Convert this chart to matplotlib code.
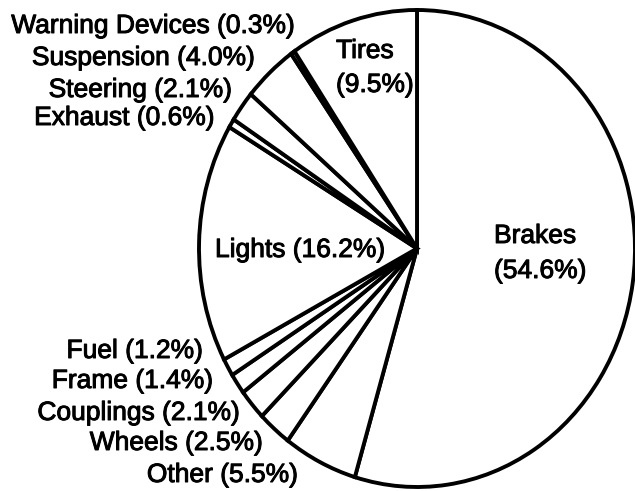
import matplotlib
matplotlib.use("Agg")
import matplotlib.pyplot as plt
import matplotlib.patheffects as pe

categories = ["Brakes", "Other", "Wheels", "Couplings", "Frame", "Fuel",
              "Lights", "Exhaust", "Steering", "Suspension", "Warning Devices", "Tires"]
shares = [54.6, 5.5, 2.5, 2.1, 1.4, 1.2, 16.2, 0.6, 2.1, 4.0, 0.3, 9.5]

W, H = 635, 491

# label anchors in image pixels: x, baseline y from top, alignment,
# baseline of the second line (None = single line)
label_layout = {
    "Warning Devices": (295, 33, "right", None),
    "Suspension": (255, 65, "right", None),
    "Steering": (232, 97, "right", None),
    "Exhaust": (215, 125, "right", None),
    "Fuel": (203, 358, "right", None),
    "Frame": (213, 388, "right", None),
    "Couplings": (240, 420, "right", None),
    "Wheels": (263, 450, "right", None),
    "Other": (298, 482, "right", None),
    "Lights": (215, 257, "left", None),
    "Tires": (336, 58, "left", 92),
    "Brakes": (494, 243, "left", 278),
}

plt.rcParams['font.family'] = ['Liberation Sans', 'DejaVu Sans']

fig = plt.figure(figsize=(W / 100, H / 100), dpi=100)
fig.patch.set_facecolor('white')

# slightly elliptical pie: centre (417, 248.5), rx 218, ry 238.5 in pixels
cx, cy, rx, ry = 417, 248.5, 218, 238.5
ax = fig.add_axes([(cx - rx) / W, (H - cy - ry) / H, 2 * rx / W, 2 * ry / H])

wedges, _ = ax.pie(shares, startangle=90, counterclock=False,
                   colors=['white'] * len(shares),
                   wedgeprops=dict(edgecolor='black', linewidth=2.8))
for w in wedges:
    w.set_clip_on(False)
ax.set_aspect('auto')
ax.set_xlim(-1, 1)
ax.set_ylim(-1, 1)
ax.axis('off')

# the scanned lettering is a bit heavier than the regular face
heavy = [pe.withStroke(linewidth=0.7, foreground='black')]

for name, val in zip(categories, shares):
    x, y, ha, y2 = label_layout[name]
    pct = f"({val}%)"
    if y2 is None:
        fig.text(x / W, 1 - y / H, f"{name} {pct}", ha=ha, va='baseline',
                 fontsize=19, color='black', path_effects=heavy)
    else:
        fig.text(x / W, 1 - y / H, name, ha=ha, va='baseline',
                 fontsize=19, color='black', path_effects=heavy)
        fig.text(x / W, 1 - y2 / H, pct, ha=ha, va='baseline',
                 fontsize=19, color='black', path_effects=heavy)

fig.savefig("out.png", dpi=100, facecolor='white')
